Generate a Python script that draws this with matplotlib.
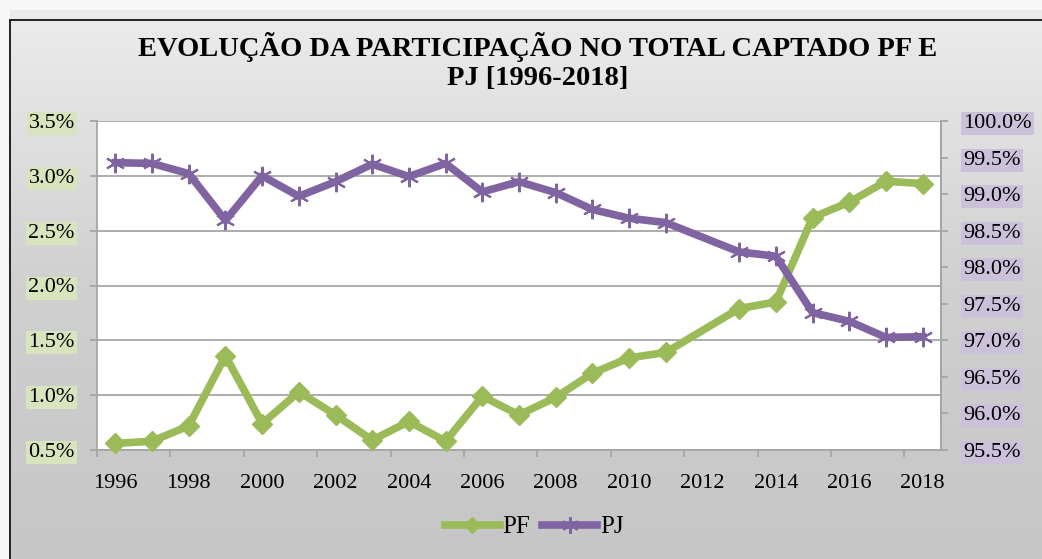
import numpy as np
import matplotlib.pyplot as plt
from matplotlib.colors import LinearSegmentedColormap
from matplotlib.patches import Rectangle
from matplotlib.lines import Line2D

plt.rcParams['font.family'] = ['Liberation Serif', 'DejaVu Serif']

years = [str(y) for y in range(1996, 2019)]
# participation (%) — 2012 has no point in the source, line is joined across it
pf = [0.56, 0.58, 0.72, 1.36, 0.74, 1.03, 0.82, 0.59, 0.76, 0.58, 0.99, 0.82,
      0.98, 1.20, 1.34, 1.39, None, 1.79, 1.85, 2.62, 2.76, 2.95, 2.93]
pj = [99.43, 99.42, 99.28, 98.64, 99.25, 98.97, 99.17, 99.41, 99.24, 99.42, 99.03, 99.17,
      99.02, 98.79, 98.67, 98.61, None, 98.21, 98.15, 97.38, 97.26, 97.04, 97.05]
left_ticks = [0.5, 1.0, 1.5, 2.0, 2.5, 3.0, 3.5]
right_ticks = [95.5, 96.0, 96.5, 97.0, 97.5, 98.0, 98.5, 99.0, 99.5, 100.0]

GREEN = "#9bbb59"
PURPLE = "#8064a2"
GRID = "#a6a6a6"
W, H = 1042, 559

fig = plt.figure(figsize=(W / 100, H / 100), dpi=100, facecolor="#f6f6f6")

# gradient background + frame
bg = fig.add_axes([0, 0, 1, 1], zorder=-10)
cmap = LinearSegmentedColormap.from_list("g", ["#c6c6c6", "#d0d0d0", "#ececec"])
bg.imshow(np.linspace(0, 1, 256)[:, None], extent=[10, W + 5, 0, H - 10],
          cmap=cmap, aspect="auto", origin="lower")
bg.add_patch(Rectangle((10, -5), W, H - 15, fill=False, edgecolor="#222222", lw=1.4))
bg.set_xlim(0, W); bg.set_ylim(0, H)
bg.axis("off")

ax = fig.add_axes([97 / W, (H - 450) / H, 844 / W, 329 / H])
ax.set_facecolor("white")
ax2 = ax.twinx()

x = np.arange(len(years))
def valid(vals):
    idx = [i for i, v in enumerate(vals) if v is not None]
    return x[idx], [vals[i] for i in idx]

xp, yp = valid(pf)
ax.plot(xp, yp, color=GREEN, lw=5.5, marker="D", ms=10, mfc=GREEN, mec=GREEN,
        solid_joinstyle="round", zorder=3, clip_on=False)
xj, yj = valid(pj)
ax2.plot(xj, yj, color=PURPLE, lw=5.5, marker=(6, 2, 0), ms=14, mew=1.5, mec=PURPLE,
         solid_joinstyle="round", zorder=3, clip_on=False)

ax.set_xlim(-0.5, len(years) - 0.5)
ax.set_ylim(0.5, 3.5)
ax2.set_ylim(95.5, 100.0)

ax.set_yticks(left_ticks)
ax.set_yticklabels([f"{v:.1f}%" for v in left_ticks])
ax2.set_yticks(right_ticks)
ax2.set_yticklabels([f"{v:.1f}%" for v in right_ticks])
ax.grid(axis="y", color=GRID, lw=1.3)
ax.set_axisbelow(True)

# category axis: tick marks at boundaries, labels every 2 years
ax.set_xticks(np.arange(-0.5, len(years) - 1, 2))
ax.set_xticklabels([])
ax.set_xticks(x[::2], minor=True)
ax.set_xticklabels(years[::2], minor=True)
ax.tick_params(axis="x", which="minor", length=0, pad=17, labelsize=16)
ax.tick_params(axis="x", which="major", length=5, color=GRID, width=1.3)
ax.tick_params(axis="y", length=5, color=GRID, width=1.3, pad=11, labelsize=16)
ax2.tick_params(axis="y", length=5, color=GRID, width=1.3, pad=11, labelsize=16)

for s in ax.spines.values():
    s.set_color(GRID); s.set_linewidth(1.3)
ax.spines["top"].set_visible(False)
for s in ax2.spines.values():
    s.set_visible(False)
ax2.spines["right"].set_visible(True)
ax2.spines["right"].set_color(GRID); ax2.spines["right"].set_linewidth(1.3)

for lab in ax.get_yticklabels():
    lab.set_bbox(dict(facecolor="#d7e4bd", edgecolor="none", pad=1.5))
for lab in ax2.get_yticklabels():
    lab.set_bbox(dict(facecolor="#ccc1da", edgecolor="none", pad=1.5))

fig.text(538 / W, 1 - 61.5 / H, "EVOLUÇÃO DA PARTICIPAÇÃO NO TOTAL CAPTADO PF E\nPJ [1996-2018]",
         ha="center", va="center", fontsize=20.5, fontweight="bold", linespacing=1.16)

handles = [Line2D([], [], color=GREEN, lw=5.5, marker="D", ms=8),
           Line2D([], [], color=PURPLE, lw=5.5, marker=(6, 2, 0), ms=12, mew=1.5)]
fig.legend(handles, ["PF", "PJ"], loc="center", bbox_to_anchor=(534 / W, 1 - 527 / H),
           ncol=2, frameon=False, fontsize=18, handlelength=2.2, handletextpad=0.1,
           columnspacing=0.5)

fig.savefig("out.png", dpi=100, facecolor=fig.get_facecolor())
